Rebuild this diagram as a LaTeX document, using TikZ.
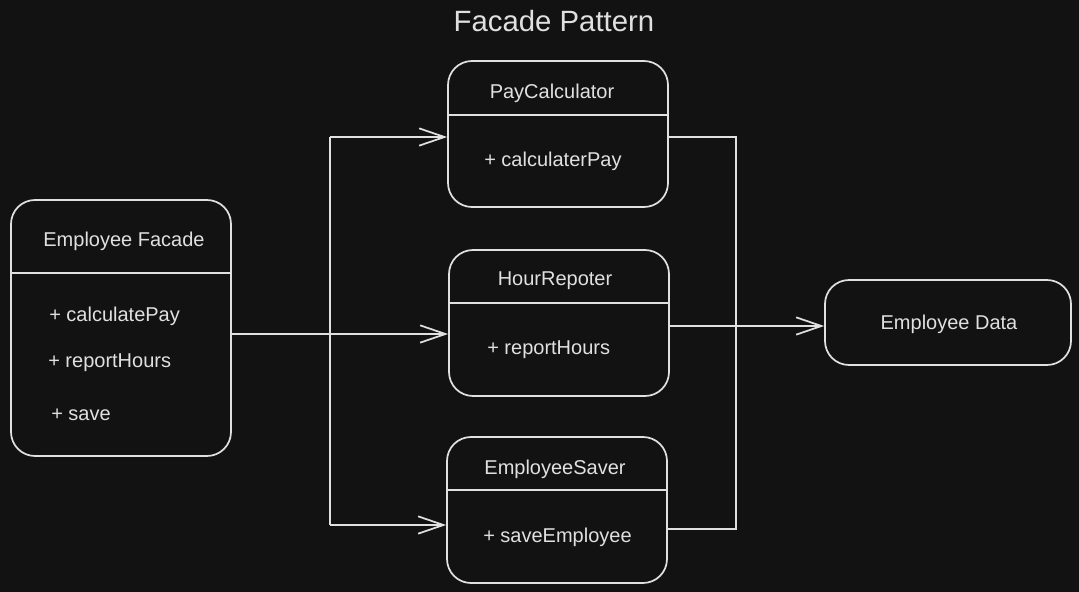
\documentclass[tikz,border=0pt]{standalone}
\usepackage{fontspec}
\setmainfont{Liberation Sans}
\usetikzlibrary{arrows.meta}

\definecolor{bgdark}{RGB}{18,18,18}
\definecolor{inkgray}{RGB}{224,224,224}

\tikzset{
  classbox/.style={draw=inkgray, line width=1.3pt, rounded corners=18pt, inner sep=0pt},
  wire/.style={draw=inkgray, line width=1.3pt},
  flowarrow/.style={wire, -{Straight Barb[length=19pt,width=13pt]}},
  boxtitle/.style={text=inkgray, inner sep=0.75pt, font=\fontsize{15pt}{18pt}\selectfont},
  member/.style={boxtitle, anchor=west},
}

\begin{document}
\begin{tikzpicture}[x=0.75pt,y=0.75pt,yscale=-1,xscale=1]
%background, sets the page size
\fill[bgdark] (0,0) rectangle (1079,592);
\useasboundingbox (0,0) rectangle (1079,592);

% Text Node
\node[text=inkgray, font=\fontsize{22pt}{26pt}\selectfont] (title) at (554,21) {Facade Pattern};

%Shape: Rounded Rect [id:facade]
\node[classbox, minimum width=165pt, minimum height=192pt] (facade) at (121,328) {};
\draw[wire] (facade.west |- 0,273) -- (facade.east |- 0,273);
%Shape: Rounded Rect [id:paycalc]
\node[classbox, minimum width=165pt, minimum height=109.5pt] (paycalc) at (558,134) {};
\draw[wire] (paycalc.west |- 0,115) -- (paycalc.east |- 0,115);
%Shape: Rounded Rect [id:hours]
\node[classbox, minimum width=165pt, minimum height=109.5pt] (hours) at (559,323) {};
\draw[wire] (hours.west |- 0,303) -- (hours.east |- 0,303);
%Shape: Rounded Rect [id:saver]
\node[classbox, minimum width=165pt, minimum height=109.5pt] (saver) at (557,510) {};
\draw[wire] (saver.west |- 0,490) -- (saver.east |- 0,490);
%Shape: Rounded Rect [id:data]
\node[classbox, minimum width=184.5pt, minimum height=63.75pt] (data) at (948,322.5) {};

% Text Node
\node[boxtitle] (facadename) at (124,241) {Employee Facade};
\node[member] (calcpay) at (48,316) {+ calculatePay};
\node[member] (reporthours) at (47,363) {+ reportHours};
\node[member] (save) at (50,415) {+ save};
% Text Node
\node[boxtitle] (paycalcname) at (552,93) {PayCalculator};
\node[member] (calcrpay) at (483,161) {+ calculaterPay};
% Text Node
\node[boxtitle] (hoursname) at (555,281) {HourRepoter};
\node[member] (hoursreport) at (486,350) {+ reportHours};
% Text Node
\node[boxtitle] (savername) at (555,469) {EmployeeSaver};
\node[member] (saveemp) at (482,537) {+ saveEmployee};
% Text Node
\node[boxtitle] (dataname) at (949,324) {Employee Data};

%Straight Lines, facade fans out
\coordinate (fork) at (330,334);
\coordinate (forktop) at (330,137);
\coordinate (forkbot) at (330,525);
\draw[wire] (facade.east |- fork) -- (fork);
\draw[wire] (forktop) -- (forkbot);
\draw[flowarrow] (forktop) -- (forktop -| paycalc.west);
\draw[flowarrow] (fork) -- (fork -| hours.west);
\draw[flowarrow] (forkbot) -- (forkbot -| saver.west);

%Straight Lines, subsystems join
\coordinate (jointop) at (736,137);
\coordinate (joinmid) at (736,326);
\coordinate (joinbot) at (736,529);
\draw[wire] (paycalc.east |- jointop) -- (jointop) -- (joinbot) -- (saver.east |- joinbot);
\draw[wire] (hours.east |- joinmid) -- (joinmid);
\draw[flowarrow] (joinmid) -- (joinmid -| data.west);

\end{tikzpicture}
\end{document}
